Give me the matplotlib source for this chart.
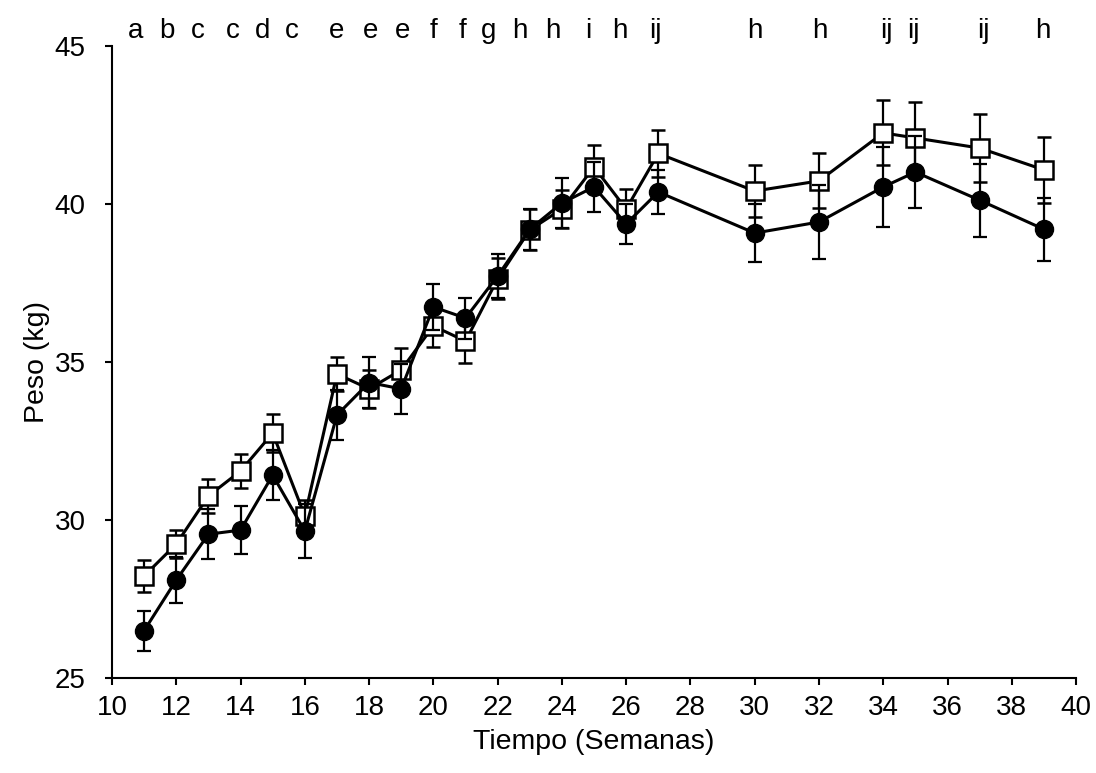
import matplotlib
matplotlib.use("Agg")
import matplotlib.pyplot as plt
import matplotlib.transforms as mtransforms

plt.rcParams['font.family'] = ['Liberation Sans', 'DejaVu Sans']

weeks = [11, 12, 13, 14, 15, 16, 17, 18, 19, 20, 21, 22, 23, 24, 25, 26, 27, 30, 32, 34, 35, 37, 39]
circle_vals = [26.5, 28.1, 29.55, 29.68, 31.42, 29.65, 33.32, 34.35, 34.15, 36.74, 36.39, 37.72,
               39.2, 40.03, 40.54, 39.37, 40.38, 39.08, 39.43, 40.54, 41.01, 40.12, 39.2]
circle_err = [0.63, 0.72, 0.8, 0.75, 0.8, 0.85, 0.8, 0.8, 0.8, 0.73, 0.65, 0.7,
              0.65, 0.8, 0.8, 0.64, 0.7, 0.93, 1.17, 1.27, 1.15, 1.15, 1.0]
square_vals = [28.23, 29.24, 30.76, 31.55, 32.75, 30.13, 34.62, 34.15, 34.75, 36.14, 35.66, 37.63,
               39.18, 39.84, 41.17, 39.84, 41.6, 40.41, 40.73, 42.25, 42.09, 41.77, 41.08]
square_err = [0.5, 0.45, 0.55, 0.55, 0.6, 0.5, 0.55, 0.6, 0.7, 0.67, 0.7, 0.65,
              0.65, 0.6, 0.7, 0.63, 0.75, 0.82, 0.87, 1.03, 1.15, 1.07, 1.05]
letters = ['a', 'b', 'c', 'c', 'd', 'c', 'e', 'e', 'e', 'f', 'f', 'g', 'h', 'h', 'i', 'h', 'ij',
           'h', 'h', 'ij', 'ij', 'ij', 'h']
# small horizontal nudges (pixels) of the letter labels, as placed in the original
letter_nudge_px = [-9, -9, -11, -8, -10, -13, 0, 1, 1, 0, -3, -9, -10, -9, -6, -6, -3,
                   0, 1, 3, -2, 4, -1]

fig = plt.figure(figsize=(10.96, 7.73), dpi=100)
ax = fig.add_axes([0.1022, 0.1229, 0.8796, 0.8176])

ax.errorbar(weeks, square_vals, yerr=square_err, color='black', lw=2.2, marker='s',
            markersize=13, markerfacecolor='white', markeredgecolor='black', markeredgewidth=1.8,
            ecolor='black', elinewidth=1.6, capsize=5, capthick=1.6, zorder=2)
ax.errorbar(weeks, circle_vals, yerr=circle_err, color='black', lw=2.2, marker='o',
            markersize=13, markerfacecolor='black', markeredgecolor='black',
            ecolor='black', elinewidth=1.6, capsize=5, capthick=1.6, zorder=3)

ax.set_xlim(10, 40)
ax.set_ylim(25, 45)
ax.set_xticks(range(10, 41, 2))
ax.set_yticks(range(25, 46, 5))
ax.spines['top'].set_visible(False)
ax.spines['right'].set_visible(False)
ax.spines['left'].set_linewidth(1.5)
ax.spines['bottom'].set_linewidth(1.5)
ax.tick_params(direction='out', length=5, width=1.5, labelsize=20)
ax.tick_params(axis='x', pad=7)
ax.tick_params(axis='y', pad=14)
ax.set_xlabel('Tiempo (Semanas)', fontsize=20.5, labelpad=6)
ax.set_ylabel('Peso (kg)', fontsize=20.5, labelpad=3)

trans = mtransforms.blended_transform_factory(ax.transData, ax.transAxes)
for w, l, dx in zip(weeks, letters, letter_nudge_px):
    ax.annotate(l, xy=(w, 1.013), xycoords=trans, xytext=(dx * 0.72, 0),
                textcoords='offset points', ha='center', va='baseline',
                fontsize=20, annotation_clip=False)

fig.savefig('out.png', dpi=100)
